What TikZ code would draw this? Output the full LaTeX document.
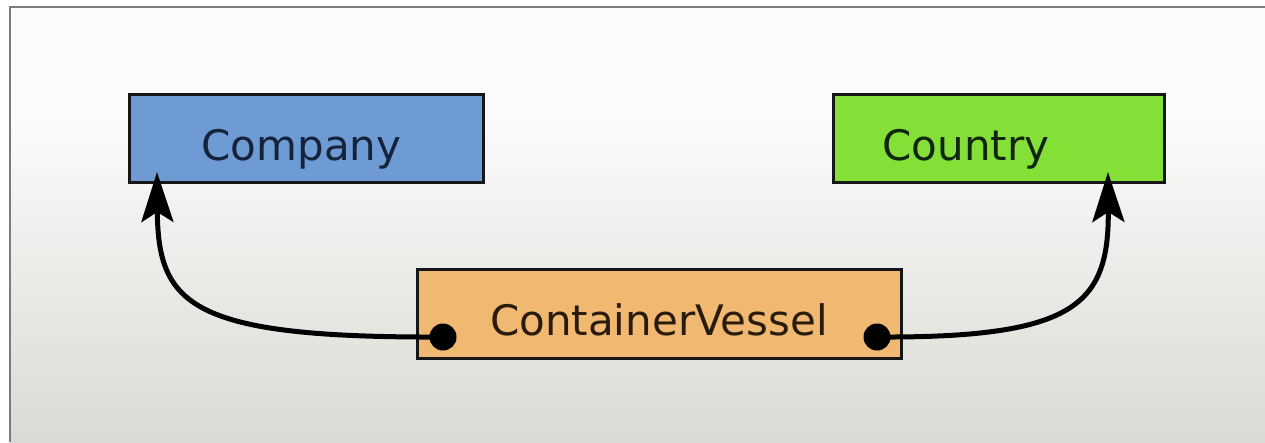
\documentclass[tikz,border=0pt]{standalone}
\usepackage{fontspec}
\setmainfont{DejaVu Sans}
\usetikzlibrary{arrows.meta}

\definecolor{frameline}{HTML}{7C7C7C}
\definecolor{bgtop}{HTML}{FBFBFB}
\definecolor{bgbottom}{HTML}{D8DBD3}
\definecolor{companyfill}{HTML}{6F9BD4}
\definecolor{countryfill}{HTML}{84E036}
\definecolor{vesselfill}{HTML}{F0B870}
\definecolor{boxline}{HTML}{161616}
\definecolor{companyink}{HTML}{15233A}
\definecolor{countryink}{HTML}{102510}
\definecolor{vesselink}{HTML}{2A1C0C}

\tikzset{
  classbox/.style={draw=boxline, line width=3pt, rectangle, inner sep=0pt},
  lbl/.style={font=\fontsize{42}{50}\selectfont, inner sep=0pt, anchor=base},
  enddot/.style={circle, fill=black, inner sep=0pt, minimum size=27pt},
  assoc/.style={line width=5pt, black,
    -{Stealth[length=50pt, width=32pt, inset=10pt]}},
}

\begin{document}
\begin{tikzpicture}[x=1pt, y=-1pt]
  \useasboundingbox (0,0) rectangle (1265,442);

  % background panel with soft vertical gradient
  \fill[white] (0,0) rectangle (1265,442);
  \fill[bgtop] (10,7) rectangle (1265,120);
  \shade[top color=bgtop, bottom color=bgbottom] (10,120) rectangle (1265,442);
  \draw[frameline, line width=2pt] (10,442) -- (10,7) -- (1265,7);

  % class boxes
  \node[classbox, fill=companyfill, minimum width=354pt, minimum height=88pt]
    (company) at (306,138) {};
  \node[classbox, fill=countryfill, minimum width=331pt, minimum height=88pt]
    (country) at (998.5,138) {};
  \node[classbox, fill=vesselfill, minimum width=484pt, minimum height=89pt]
    (vessel) at (659,313.5) {};

  % class names
  \node[lbl, text=companyink] (companytext) at (301.5,160) {Company};
  \node[lbl, text=countryink] (countrytext) at (966,160) {Country};
  \node[lbl, text=vesselink] (vesseltext) at (659,335) {ContainerVessel};

  % association ends
  \node[enddot] (dotleft) at (443,337) {};
  \node[enddot] (dotright) at (877,337) {};
  \coordinate (tipcompany) at (157,172);
  \coordinate (tipcountry) at (1108,172);

  % associations
  \draw[assoc] (dotleft.center) .. controls (190,338) and (158,305) .. (tipcompany);
  \draw[assoc] (dotright.center) .. controls (1075,338) and (1109,305) .. (tipcountry);
\end{tikzpicture}
\end{document}
